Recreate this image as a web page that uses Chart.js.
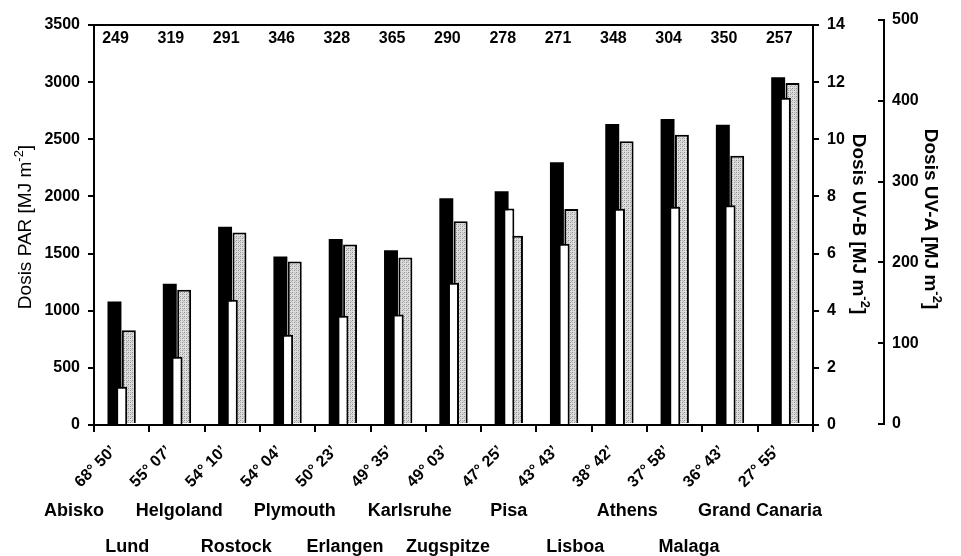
<!DOCTYPE html>
<html>
<head>
<meta charset="utf-8">
<script src="https://cdn.jsdelivr.net/npm/chart.js@4/dist/chart.umd.min.js"></script>
<style>
  html, body { margin: 0; padding: 0; background: #fff; }
  #wrap { width: 961px; height: 556px; }
</style>
</head>
<body>
<div id="wrap"><canvas id="c" width="961" height="556"></canvas></div>
<script>
// Station latitudes (category axis) and station names
const latitudes = ["68° 50’", "55° 07’", "54° 10’", "54° 04’", "50° 23’", "49° 35’", "49° 03’",
                   "47° 25’", "43° 43’", "38° 42’", "37° 58’", "36° 43’", "27° 55’"];
const sites = ["Abisko", "Lund", "Helgoland", "Rostock", "Plymouth", "Erlangen", "Karlsruhe",
               "Zugspitze", "Pisa", "Lisboa", "Athens", "Malaga", "Grand Canaria"];
// where each station name sits along the category axis, and in which text row
const sitePos = [-0.86, 0.10, 1.04, 2.07, 3.13, 4.04, 5.21, 5.90, 7.00, 8.20, 9.14, 10.26, 11.54];
const siteRow = [0, 1, 0, 1, 0, 1, 0, 1, 0, 1, 0, 1, 0];
// number of measuring days per station
const days = [249, 319, 291, 346, 328, 365, 290, 278, 271, 348, 304, 350, 257];

// annual doses [MJ m-2]
const dosePAR = [1080, 1235, 1735, 1475, 1628, 1530, 1985, 2045, 2300, 2634, 2678, 2628, 3042];
const doseUVA = [116, 166, 237, 201, 222, 206, 251, 233, 266, 350, 358, 332, 422];
const doseUVB = [1.34, 2.39, 4.38, 3.16, 3.82, 3.87, 4.98, 7.58, 6.34, 7.57, 7.64, 7.69, 11.45];

// axis ticks
const parTicks = [0, 500, 1000, 1500, 2000, 2500, 3000, 3500];
const uvbTicks = [0, 2, 4, 6, 8, 10, 12, 14];
const uvaTicks = [0, 100, 200, 300, 400, 500];

const FONT = "'Liberation Sans', Arial, Helvetica, sans-serif";
Chart.defaults.font.family = FONT;
Chart.defaults.color = '#000';

const canvas = document.getElementById('c');
const ctx0 = canvas.getContext('2d');

// fine stipple fill for the UV-A bars
function stipple() {
  const p = document.createElement('canvas');
  p.width = 4; p.height = 4;
  const g = p.getContext('2d');
  g.fillStyle = '#dedede'; g.fillRect(0, 0, 4, 4);
  g.fillStyle = '#8e8e8e'; g.fillRect(0, 0, 1, 1); g.fillRect(2, 2, 1, 1);
  g.fillStyle = '#b6b6b6'; g.fillRect(2, 0, 1, 1); g.fillRect(0, 2, 1, 1); g.fillRect(3, 1, 1, 1);
  return ctx0.createPattern(p, 'repeat');
}

function setTicks(list) {
  return (scale) => { scale.ticks = list.map(v => ({ value: v })); };
}
const plain = (v) => String(v);

// rotated axis title with a superscript exponent
function drawTitle(ctx, x, y, angle, main, sup, tail, size, weight) {
  const f = `${weight} ${size}px ${FONT}`;
  const fs = `${weight} ${Math.round(size * 0.68)}px ${FONT}`;
  ctx.save();
  ctx.translate(x, y);
  ctx.rotate(angle);
  ctx.fillStyle = '#000';
  ctx.textBaseline = 'alphabetic';
  ctx.textAlign = 'left';
  ctx.font = f; const w1 = ctx.measureText(main).width; const w3 = ctx.measureText(tail).width;
  ctx.font = fs; const w2 = ctx.measureText(sup).width;
  let sx = -(w1 + w2 + w3) / 2;
  ctx.font = f; ctx.fillText(main, sx, 0);
  ctx.font = fs; ctx.fillText(sup, sx + w1, -size * 0.42);
  ctx.font = f; ctx.fillText(tail, sx + w1 + w2, 0);
  ctx.restore();
}

const annotations = {
  id: 'annotations',
  afterDraw(chart) {
    const ctx = chart.ctx;
    const xs = chart.scales.x;
    const ya = chart.scales.yA;
    ctx.save();
    ctx.fillStyle = '#000';

    // day counts along the top
    ctx.font = `bold 16px ${FONT}`;
    ctx.textAlign = 'center';
    ctx.textBaseline = 'alphabetic';
    days.forEach((d, i) => ctx.fillText(String(d), xs.getPixelForValue(i - 0.11), 43));

    // station names in two rows below the latitudes
    ctx.font = `bold 18px ${FONT}`;
    sites.forEach((s, i) => {
      const y = siteRow[i] === 0 ? 516 : 552;
      ctx.fillText(s, xs.getPixelForValue(sitePos[i]), y);
    });

    // UV-A axis line at the inner end of its tick marks
    const ax = ya.left + 6;
    ctx.strokeStyle = '#000';
    ctx.lineWidth = 2;
    ctx.beginPath();
    ctx.moveTo(ax, ya.getPixelForValue(uvaTicks[uvaTicks.length - 1]) - 1);
    ctx.lineTo(ax, ya.getPixelForValue(0) + 1);
    ctx.stroke();
    ctx.restore();

    // axis titles
    drawTitle(ctx, 31, 227, -Math.PI / 2, 'Dosis PAR [MJ m', '-2', ']', 19, 'normal');
    drawTitle(ctx, 853, 224, Math.PI / 2, 'Dosis UV-B [MJ m', '-2', ']', 19, 'bold');
    drawTitle(ctx, 925, 219, Math.PI / 2, 'Dosis UV-A [MJ m', '-2', ']', 19, 'bold');
  }
};

const tickFont = { family: FONT, size: 16, weight: 'bold' };

new Chart(canvas, {
  type: 'bar',
  data: {
    labels: latitudes,
    datasets: [
      {
        // centred in each category, drawn on top of its neighbours
        label: 'UV-B',
        data: doseUVB,
        xAxisID: 'x',
        yAxisID: 'yB',
        grouped: false,
        backgroundColor: '#ffffff',
        borderColor: '#000000',
        borderWidth: 2,
        categoryPercentage: 1,
        barPercentage: 0.2
      },
      {
        label: 'PAR',
        data: dosePAR,
        xAxisID: 'x',
        yAxisID: 'y',
        backgroundColor: '#000000',
        borderWidth: 0,
        categoryPercentage: 0.52,
        barPercentage: 0.97
      },
      {
        label: 'UV-A',
        data: doseUVA,
        xAxisID: 'x',
        yAxisID: 'yA',
        backgroundColor: stipple(),
        borderColor: '#000000',
        borderWidth: 2,
        categoryPercentage: 0.52,
        barPercentage: 0.97
      }
    ]
  },
  options: {
    responsive: false,
    animation: false,
    devicePixelRatio: 1,
    layout: { padding: { top: 25, left: 0, right: 0, bottom: 0 } },
    plugins: { legend: { display: false }, tooltip: { enabled: false } },
    scales: {
      x: {
        type: 'category',
        position: 'bottom',
        offset: true,
        grid: { display: true, offset: true, drawOnChartArea: false, drawTicks: true,
                tickLength: 7, color: '#000', lineWidth: 2 },
        border: { display: true, color: '#000', width: 2 },
        ticks: { font: tickFont, color: '#000', minRotation: 45, maxRotation: 45,
                 autoSkip: false, padding: 10, labelOffset: -8 },
        afterFit: (s) => { s.height = 131; }
      },
      xTop: {
        type: 'category',
        position: 'top',
        offset: true,
        grid: { display: false },
        border: { display: true, color: '#000', width: 2 },
        ticks: { display: false },
        afterFit: (s) => { s.height = 0; }
      },
      y: {
        type: 'linear',
        position: 'left',
        min: 0, max: 3500,
        afterBuildTicks: setTicks(parTicks),
        grid: { drawOnChartArea: false, tickLength: 6, color: '#000', lineWidth: 2 },
        border: { display: true, color: '#000', width: 2 },
        ticks: { font: tickFont, color: '#000', padding: 8, callback: plain },
        afterFit: (s) => { s.width = 94; }
      },
      yB: {
        type: 'linear',
        position: 'right',
        min: 0, max: 14,
        afterBuildTicks: setTicks(uvbTicks),
        grid: { drawOnChartArea: false, tickLength: 6, color: '#000', lineWidth: 2 },
        border: { display: true, color: '#000', width: 2 },
        ticks: { font: tickFont, color: '#000', padding: 8, callback: plain },
        afterFit: (s) => { s.width = 65; }
      },
      yA: {
        type: 'linear',
        position: 'right',
        min: -1.24, max: 493.8,
        afterBuildTicks: setTicks(uvaTicks),
        grid: { drawOnChartArea: false, tickLength: 6, color: '#000', lineWidth: 2 },
        border: { display: false },
        ticks: { font: tickFont, color: '#000', padding: 8, callback: plain },
        afterFit: (s) => { s.width = 83; }
      }
    }
  },
  plugins: [annotations]
});
</script>
</body>
</html>
